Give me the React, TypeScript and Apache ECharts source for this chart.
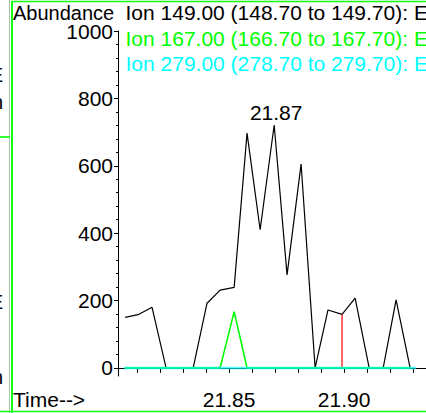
import React, { useEffect, useRef } from "react";
import * as echarts from "echarts";

// Retention times (min) and abundances
const times = [
  21.8048, 21.8104, 21.8165, 21.8226, 21.8283, 21.8344, 21.8404, 21.8461,
  21.8522, 21.8578, 21.8635, 21.8696, 21.8752, 21.8813, 21.8874, 21.893,
  21.8991, 21.9048, 21.9109, 21.917, 21.9226, 21.9287,
];
const ion149 = [150, 158, 180, 0, 0, 0, 192, 231, 239, 697, 410, 721, 276, 605, 0, 172, 159, 207, 0, 0, 202, 0];
const ion167 = [0, 0, 0, 0, 0, 0, 0, 0, 167, 0, 0, 0, 0, 0, 0, 0, 0, 0, 0, 0, 0, 0];
const ion279Times = [21.8043, 21.9313];
const ion279 = [0, 0];
const markerTimes = [21.8991, 21.8991];
const markerValues = [0, 159];

const ionNames = [
  "Ion 149.00 (148.70 to 149.70): E",
  "Ion 167.00 (166.70 to 167.70): E",
  "Ion 279.00 (278.70 to 279.70): E",
];
const ionColors = ["#000000", "#00ff00", "#00ffff"];

const yLabelValues = [0, 200, 400, 600, 800, 1000];
const yMinorValues = [0, 40, 80, 120, 160, 200, 240, 280, 320, 360, 400, 440, 480, 520, 560, 600, 640, 680, 720, 760, 800, 840, 880, 920, 960, 1000];
const xTickValues = [21.81, 21.82, 21.83, 21.84, 21.85, 21.86, 21.87, 21.88, 21.89, 21.9, 21.91, 21.92, 21.93];
const xLabelValues = [21.85, 21.9];

const FONT = "'Liberation Sans', Arial, sans-serif";

export default function App() {
  const ref = useRef<HTMLDivElement>(null);
  useEffect(() => {
    if (!ref.current) return;
    const chart = echarts.init(ref.current, null, { renderer: "svg" });
    let peak = 0;
    ion149.forEach((v, i) => {
      if (v > ion149[peak]) peak = i;
    });
    const blackData: any[] = times.map((t, i) => [t, ion149[i]]);
    blackData[peak] = {
      value: [times[peak], ion149[peak]],
      symbol: "circle",
      symbolSize: 2,
      itemStyle: { color: "rgba(0,0,0,0)" },
      label: {
        show: true,
        position: "top",
        distance: 1,
        offset: [2, 0],
        formatter: (p: any) => p.value[0].toFixed(2),
        color: "#000",
        fontSize: 21,
        fontFamily: FONT,
      },
    };
    const axisText = { color: "#000", fontSize: 21, fontFamily: FONT };
    chart.setOption({
      animation: false,
      backgroundColor: "#fff",
      grid: { left: 118, top: 31, width: 318.1, height: 345, containLabel: false },
      xAxis: {
        type: "value",
        min: 21.8017,
        max: 21.94,
        axisLine: { show: true, lineStyle: { color: "#000", width: 1 } },
        axisTick: { show: true, length: 5, lineStyle: { color: "#000" }, customValues: xTickValues },
        axisLabel: {
          ...axisText,
          margin: 13,
          customValues: xLabelValues,
          formatter: (v: number) => v.toFixed(2),
        },
        splitLine: { show: false },
      },
      yAxis: [
        {
          type: "value",
          min: -24,
          max: 1000,
          axisLine: { show: true, lineStyle: { color: "#000", width: 1 } },
          axisTick: { show: true, length: 2, lineStyle: { color: "#000" }, customValues: yMinorValues },
          axisLabel: { ...axisText, lineHeight: 16, margin: 5, customValues: yLabelValues, formatter: (v: number) => String(v) },
          splitLine: { show: false },
        },
        {
          type: "value",
          min: -24,
          max: 1000,
          position: "left",
          axisLine: { show: false },
          axisTick: { show: true, length: 4, lineStyle: { color: "#000" }, customValues: yLabelValues },
          axisLabel: { show: false },
          splitLine: { show: false },
        },
      ],
      series: [
        {
          name: ionNames[0],
          type: "line",
          data: blackData,
          symbol: "none",
          showSymbol: true,
          lineStyle: { color: ionColors[0], width: 1.2 },
          z: 2,
        },
        {
          name: "marker",
          type: "line",
          data: markerTimes.map((t, i) => [t, markerValues[i]]),
          symbol: "none",
          lineStyle: { color: "#ff0000", width: 1.2 },
          z: 3,
        },
        {
          name: ionNames[1],
          type: "line",
          data: times.map((t, i) => [t, ion167[i]]),
          symbol: "none",
          lineStyle: { color: ionColors[1], width: 1.6 },
          z: 4,
        },
        {
          name: ionNames[2],
          type: "line",
          data: ion279Times.map((t, i) => [t, ion279[i]]),
          symbol: "none",
          lineStyle: { color: ionColors[2], width: 2.5, opacity: 0.65 },
          z: 5,
        },
      ],
      graphic: [
        { type: "line", shape: { x1: 9.5, y1: 0, x2: 9.5, y2: 413 }, style: { stroke: "#9fc89f", lineWidth: 1 }, silent: true },
        { type: "line", shape: { x1: 0, y1: 137, x2: 10, y2: 137 }, style: { stroke: "#33ff33", lineWidth: 2 }, silent: true },
        { type: "line", shape: { x1: 12, y1: 1, x2: 12, y2: 413 }, style: { stroke: "#11ff11", lineWidth: 2 }, silent: true },
        { type: "line", shape: { x1: 11, y1: 1.5, x2: 480, y2: 1.5 }, style: { stroke: "#11ff11", lineWidth: 1.5 }, silent: true },
        { type: "line", shape: { x1: 0, y1: 411.5, x2: 480, y2: 411.5 }, style: { stroke: "#11ff11", lineWidth: 1.5 }, silent: true },
        { type: "text", x: 3, y: 75, style: { text: "E", font: `20px ${FONT}`, fill: "#000", textAlign: "right", textVerticalAlign: "middle" }, silent: true },
        { type: "text", x: 3, y: 102, style: { text: "n", font: `20px ${FONT}`, fill: "#000", textAlign: "right", textVerticalAlign: "middle" }, silent: true },
        { type: "text", x: 3, y: 302, style: { text: "E", font: `20px ${FONT}`, fill: "#000", textAlign: "right", textVerticalAlign: "middle" }, silent: true },
        { type: "text", x: 3, y: 377, style: { text: "n", font: `20px ${FONT}`, fill: "#000", textAlign: "right", textVerticalAlign: "middle" }, silent: true },
        { type: "text", x: 13, y: 12.7, style: { text: "Abundance", font: `20px ${FONT}`, fill: "#000", textAlign: "left", textVerticalAlign: "middle", lineHeight: 16 }, silent: true },
        ...ionNames.map((n, i) => ({
          type: "text",
          x: 125.5,
          y: 12.7 + i * 25.6,
          style: { text: n, font: `21px ${FONT}`, fill: ionColors[i], textAlign: "left", textVerticalAlign: "middle" },
          silent: true,
        })),
        { type: "text", x: 13, y: 399.4, style: { text: "Time-->", font: `21px ${FONT}`, fill: "#000", textAlign: "left", textVerticalAlign: "middle" }, silent: true },
      ],
    });
    return () => chart.dispose();
  }, []);
  return (
    <div style={{ position: "fixed", left: 0, top: 0, width: 426, height: 413, overflow: "hidden", background: "#fff" }}>
      <div ref={ref} style={{ width: 480, height: 413 }} />
    </div>
  );
}
